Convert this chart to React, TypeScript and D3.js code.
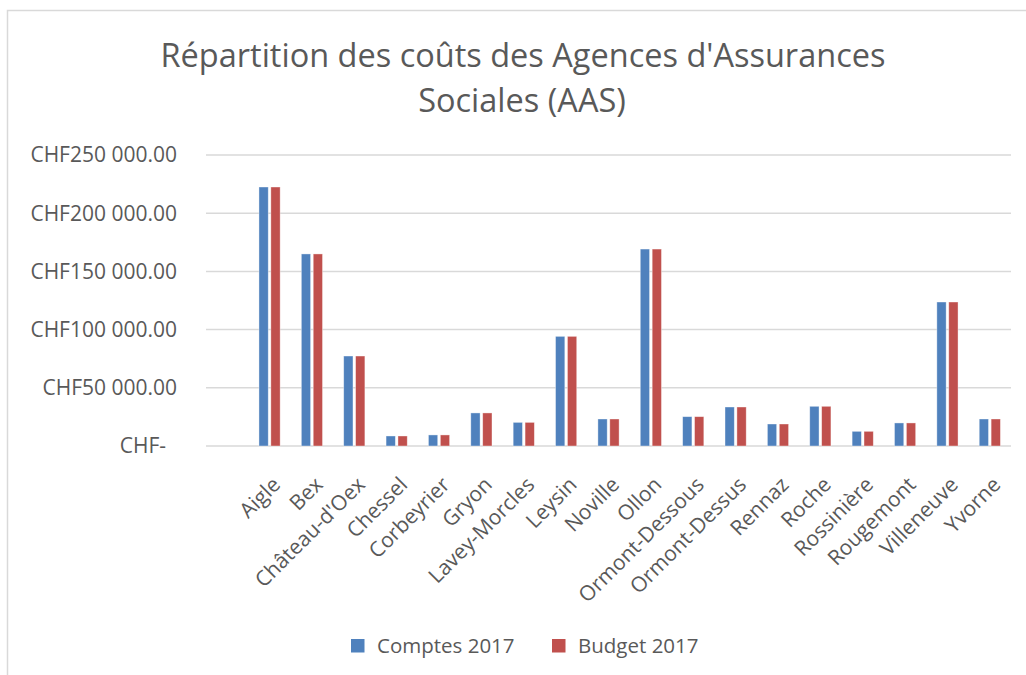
import React, { useEffect, useRef } from "react";
import * as d3 from "d3";

// Communes (the source sheet starts with one blank row, kept as "")
const communes = [
  "",
  "Aigle",
  "Bex",
  "Château-d'Oex",
  "Chessel",
  "Corbeyrier",
  "Gryon",
  "Lavey-Morcles",
  "Leysin",
  "Noville",
  "Ollon",
  "Ormont-Dessous",
  "Ormont-Dessus",
  "Rennaz",
  "Roche",
  "Rossinière",
  "Rougemont",
  "Villeneuve",
  "Yvorne",
];

// CHF
const comptes2017 = [
  null, 222500, 165000, 77300, 8600, 9500, 28400, 20300, 94200, 23200,
  169200, 25200, 33500, 18900, 34100, 12600, 19800, 123700, 23200,
];
const budget2017 = [
  null, 222500, 165000, 77300, 8600, 9500, 28400, 20300, 94200, 23200,
  169200, 25200, 33500, 18900, 34100, 12600, 19800, 123700, 23200,
];

const seriesNames = ["Comptes 2017", "Budget 2017"];
const seriesColors = ["#4F81BD", "#C0504D"];
const yTicks = [0, 50000, 100000, 150000, 200000, 250000];

const FONT = "'Open Sans', 'Noto Sans', sans-serif";
const TEXT = "#595959";

const formatChf = (v: number) => {
  if (v === 0) return "CHF-";
  const s = d3.format(",.2f")(v).replace(/,/g, " ");
  return "CHF" + s;
};

const App = () => {
  const svgRef = useRef<SVGSVGElement>(null);

  useEffect(() => {
    const svg = d3.select(svgRef.current);
    svg.selectAll("*").remove();

    const width = 1026;
    const height = 675;
    const plot = { left: 206, right: 1011, top: 155, bottom: 446 };

    // chart frame
    svg
      .append("rect")
      .attr("x", 7.5)
      .attr("y", 10.5)
      .attr("width", width + 20)
      .attr("height", height + 20)
      .attr("fill", "#fff")
      .attr("stroke", "#d9d9d9")
      .attr("stroke-width", 1.5);

    // title
    const title = svg
      .append("text")
      .attr("text-anchor", "middle")
      .attr("fill", TEXT)
      .style("font-family", FONT)
      .style("font-size", "32.5px");
    title.append("tspan").attr("x", 523).attr("y", 67).text("Répartition des coûts des Agences d'Assurances");
    title.append("tspan").attr("x", 522).attr("y", 112).text("Sociales (AAS)");

    const x0 = d3
      .scaleBand()
      .domain(communes.map((d, i) => String(i)))
      .range([plot.left, plot.right])
      .paddingInner(0.5)
      .paddingOuter(0.25);

    const x1 = d3
      .scaleBand()
      .domain(seriesNames)
      .range([0, x0.bandwidth()])
      .paddingInner(0.22);

    const y = d3.scaleLinear().domain([0, 250000]).range([plot.bottom, plot.top]);

    // gridlines
    svg
      .append("g")
      .selectAll("line")
      .data(yTicks)
      .enter()
      .append("line")
      .attr("x1", plot.left)
      .attr("x2", plot.right)
      .attr("y1", (d) => y(d))
      .attr("y2", (d) => y(d))
      .attr("stroke", "#d9d9d9")
      .attr("stroke-width", 1.5);

    // y labels
    svg
      .append("g")
      .selectAll("text")
      .data(yTicks)
      .enter()
      .append("text")
      .attr("x", (d) => (d === 0 ? 166 : 177))
      .attr("y", (d) => y(d))
      .attr("dy", "0.35em")
      .attr("text-anchor", "end")
      .attr("fill", TEXT)
      .style("font-family", FONT)
      .style("font-size", "21px")
      .text((d) => formatChf(d));

    // bars
    const seriesValues = [comptes2017, budget2017];
    const groups = svg
      .append("g")
      .selectAll("g")
      .data(communes)
      .enter()
      .append("g")
      .attr("transform", (d, i) => `translate(${x0(String(i))},0)`);

    groups
      .selectAll("rect")
      .data((d, i) => seriesNames.map((s, k) => ({ s, k, v: seriesValues[k][i] })))
      .enter()
      .filter((d) => d.v != null)
      .append("rect")
      .attr("x", (d) => x1(d.s)!)
      .attr("width", x1.bandwidth())
      .attr("y", (d) => y(d.v as number))
      .attr("height", (d) => plot.bottom - y(d.v as number))
      .attr("fill", (d) => seriesColors[d.k])
      .attr("stroke", "#ffffff")
      .attr("stroke-opacity", 0.5)
      .attr("stroke-width", 0.75);

    // x labels
    svg
      .append("g")
      .selectAll("text")
      .data(communes)
      .enter()
      .append("text")
      .attr(
        "transform",
        (d, i) => `translate(${x0(String(i))! + x0.bandwidth() / 2 + 12},${plot.bottom + 40}) rotate(-45)`
      )
      .attr("text-anchor", "end")
      .attr("fill", TEXT)
      .style("font-family", FONT)
      .style("font-size", "21px")
      .text((d) => d);

    // legend
    const legendX = [351, 552];
    const legend = svg
      .append("g")
      .selectAll("g")
      .data(seriesNames)
      .enter()
      .append("g")
      .attr("transform", (d, i) => `translate(${legendX[i]},639)`);
    legend
      .append("rect")
      .attr("width", 13.5)
      .attr("height", 13.5)
      .attr("fill", (d, i) => seriesColors[i]);
    legend
      .append("text")
      .attr("x", 26)
      .attr("y", 7)
      .attr("dy", "0.35em")
      .attr("fill", TEXT)
      .style("font-family", FONT)
      .style("font-size", "20.5px")
      .text((d) => d);
  }, []);

  return (
    <div style={{ position: "absolute", left: 0, top: 0 }}>
      <svg ref={svgRef} width={1026} height={675} style={{ display: "block" }} />
    </div>
  );
};

export default App;
